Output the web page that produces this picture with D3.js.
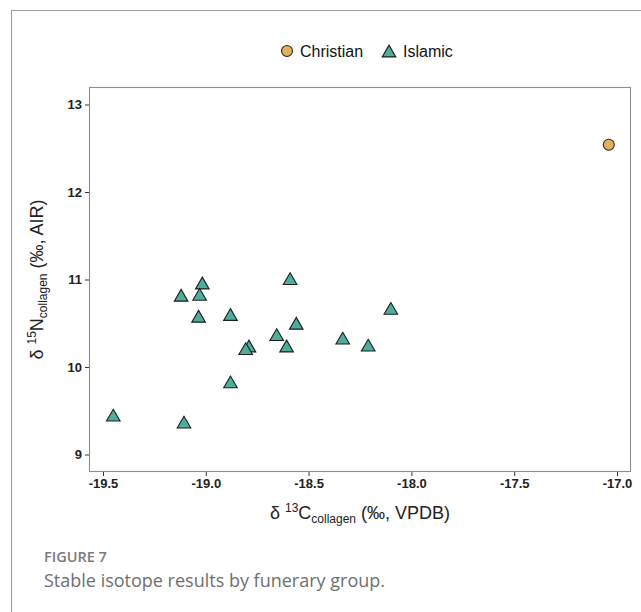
<!DOCTYPE html>
<html>
<head>
<meta charset="utf-8">
<script src="https://cdn.jsdelivr.net/npm/d3@7"></script>
<style>
  body { margin: 0; background: #fff; }
  svg { display: block; }
</style>
</head>
<body>
<script>
// data
var groups = ["Christian", "Islamic"];
var christianC = [-17.04];
var christianN = [12.54];
var islamicC = [-19.45, -19.106, -19.12, -19.017, -19.03, -19.035, -18.88, -18.59, -18.10, -18.56,
                -18.655, -18.607, -18.334, -18.21, -18.79, -18.806, -18.88];
var islamicN = [9.45, 9.37, 10.82, 10.96, 10.83, 10.58, 10.60, 11.01, 10.67, 10.50,
                10.37, 10.24, 10.33, 10.25, 10.24, 10.21, 9.83];
var xTicks = [-19.5, -19.0, -18.5, -18.0, -17.5, -17.0];
var yTicks = [9, 10, 11, 12, 13];

var W = 641, H = 612;
var fills = { Christian: "#dfb25f", Islamic: "#4fad9c" };

var svg = d3.select("body").append("svg").attr("width", W).attr("height", H);

// outer figure frame
svg.append("rect")
    .attr("x", 11.5).attr("y", 10.5)
    .attr("width", 640).attr("height", 640)
    .attr("fill", "none").attr("stroke", "#9a9a9a").attr("stroke-width", 1);

var panel = { left: 89, top: 87, right: 631, bottom: 472 };

var x = d3.scaleLinear().domain([-19.568, -16.932]).range([panel.left, panel.right]);
var y = d3.scaleLinear().domain([8.8, 13.2]).range([panel.bottom, panel.top]);

var g = svg.append("g");

// axes
var xAxis = g.append("g")
    .attr("transform", "translate(0," + panel.bottom + ")")
    .call(d3.axisBottom(x).tickValues(xTicks).tickFormat(d3.format(".1f")).tickSize(4).tickPadding(3));
var yAxis = g.append("g")
    .attr("transform", "translate(" + panel.left + ",0)")
    .call(d3.axisLeft(y).tickValues(yTicks).tickFormat(d3.format("d")).tickSize(4).tickPadding(3));

[xAxis, yAxis].forEach(function(a) {
    a.select(".domain").remove();
    a.selectAll("line").attr("stroke", "#333");
    a.selectAll("text")
        .attr("fill", "#222")
        .attr("font-family", "Liberation Sans, Arial, sans-serif")
        .attr("font-size", 13)
        .attr("font-weight", "bold");
});
// d3 uses a unicode minus; the figure uses a hyphen
xAxis.selectAll("text").text(function(d) { return d3.format(".1f")(d).replace("\u2212", "-"); });

// panel border
g.append("rect")
    .attr("x", panel.left + 0.5).attr("y", panel.top + 0.5)
    .attr("width", panel.right - panel.left - 1).attr("height", panel.bottom - panel.top - 1)
    .attr("fill", "none").attr("stroke", "#8c8c8c").attr("stroke-width", 1.1);

var triSize = 80;
var tri = d3.symbol().type(d3.symbolTriangle).size(triSize);
// d3 centres the triangle on its centroid; shift so the box middle sits on the value
var triH = Math.sqrt(triSize * 4 / Math.sqrt(3)) * Math.sqrt(3) / 2;
var triOff = triH / 6;

// points
g.selectAll(".isl").data(islamicC).enter().append("path")
    .attr("class", "isl")
    .attr("d", tri)
    .attr("transform", function(d, i) { return "translate(" + x(d) + "," + (y(islamicN[i]) + triOff) + ")"; })
    .attr("fill", fills.Islamic).attr("stroke", "#1e1e1e").attr("stroke-width", 1.1);

g.selectAll(".chr").data(christianC).enter().append("circle")
    .attr("class", "chr")
    .attr("cx", function(d) { return x(d); })
    .attr("cy", function(d, i) { return y(christianN[i]); })
    .attr("r", 5.5)
    .attr("fill", fills.Christian).attr("stroke", "#2a2a2a").attr("stroke-width", 1.1);

// legend
var leg = svg.append("g").attr("font-family", "Liberation Sans, Arial, sans-serif").attr("font-size", 16).attr("fill", "#111");
leg.append("circle").attr("cx", 287).attr("cy", 51).attr("r", 5.5)
    .attr("fill", fills.Christian).attr("stroke", "#2a2a2a").attr("stroke-width", 1.1);
leg.append("text").attr("x", 300).attr("y", 57).text(groups[0]);
leg.append("path").attr("d", tri).attr("transform", "translate(389," + (51 + triOff) + ")")
    .attr("fill", fills.Islamic).attr("stroke", "#1e1e1e").attr("stroke-width", 1.1);
leg.append("text").attr("x", 403).attr("y", 57).text(groups[1]);

// axis titles
var xt = svg.append("text")
    .attr("x", (panel.left + panel.right) / 2).attr("y", 519)
    .attr("text-anchor", "middle")
    .attr("font-family", "Liberation Sans, Arial, sans-serif").attr("font-size", 18).attr("fill", "#222");
xt.append("tspan").text("\u03b4 ");
xt.append("tspan").attr("font-size", 12).attr("dy", -7).text("13");
xt.append("tspan").attr("dy", 7).text("C");
xt.append("tspan").attr("font-size", 12).attr("dy", 4).text("collagen");
xt.append("tspan").attr("dy", -4).text(" (\u2030, VPDB)");

var yt = svg.append("text")
    .attr("transform", "translate(43," + ((panel.top + panel.bottom) / 2) + ") rotate(-90)")
    .attr("text-anchor", "middle")
    .attr("font-family", "Liberation Sans, Arial, sans-serif").attr("font-size", 18).attr("fill", "#222");
yt.append("tspan").text("\u03b4 ");
yt.append("tspan").attr("font-size", 12).attr("dy", -7).text("15");
yt.append("tspan").attr("dy", 7).text("N");
yt.append("tspan").attr("font-size", 12).attr("dy", 4).text("collagen");
yt.append("tspan").attr("dy", -4).text(" (\u2030, AIR)");

// caption
svg.append("text").attr("x", 44).attr("y", 562)
    .attr("font-family", "Open Sans, sans-serif").attr("font-size", 14.5).attr("font-weight", 600)
    .attr("fill", "#7b7b7b").text("FIGURE 7");
svg.append("text").attr("x", 44).attr("y", 587)
    .attr("font-family", "Open Sans, sans-serif").attr("font-size", 18)
    .attr("fill", "#6f6f6f").text("Stable isotope results by funerary group.");
</script>
</body>
</html>
